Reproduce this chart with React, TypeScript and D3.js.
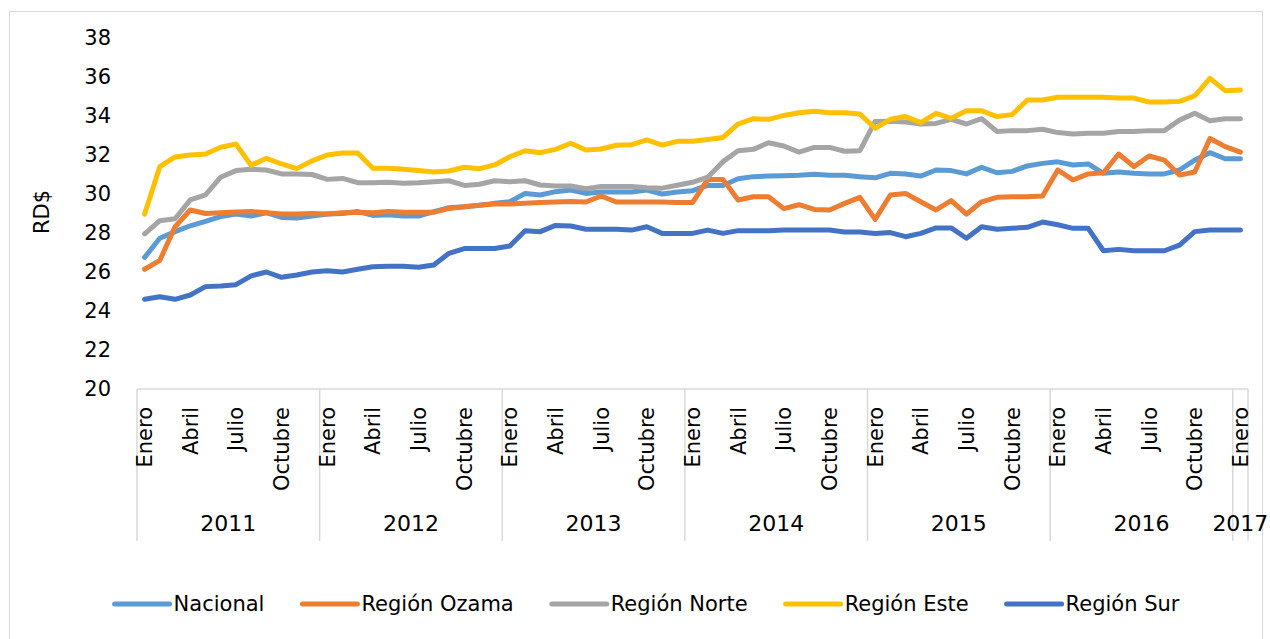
import React, { useEffect, useRef } from 'react';
import * as d3 from 'd3';

const years = ['2011', '2012', '2013', '2014', '2015', '2016', '2017'];
const monthNames = ['Enero', 'Febrero', 'Marzo', 'Abril', 'Mayo', 'Junio', 'Julio', 'Agosto', 'Septiembre', 'Octubre', 'Noviembre', 'Diciembre'];
const yTicks = [20, 22, 24, 26, 28, 30, 32, 34, 36, 38];

const nacional = [
  26.75, 27.73, 28.07, 28.37, 28.6, 28.84, 28.97, 28.87, 29.04, 28.8, 28.77, 28.87,
  28.97, 29.0, 29.1, 28.9, 28.94, 28.87, 28.87, 29.1, 29.3, 29.35, 29.42, 29.52,
  29.6, 30.03, 29.95, 30.12, 30.2, 30.03, 30.1, 30.1, 30.1, 30.2, 30.0, 30.1,
  30.17, 30.44, 30.44, 30.78, 30.89, 30.92, 30.94, 30.96, 31.01, 30.96, 30.96, 30.89,
  30.83, 31.06, 31.03, 30.92, 31.23, 31.2, 31.03, 31.37, 31.09, 31.16, 31.44, 31.57,
  31.65, 31.49, 31.54, 31.06, 31.13, 31.06, 31.03, 31.03, 31.23, 31.74, 32.12, 31.81,
  31.81,
];
const ozama = [
  26.14, 26.6, 28.32, 29.18, 29.0, 29.04, 29.08, 29.1, 29.04, 28.97, 28.97, 29.0,
  28.97, 29.04, 29.06, 29.04, 29.1, 29.06, 29.06, 29.06, 29.26, 29.35, 29.42, 29.49,
  29.49, 29.52, 29.56, 29.59, 29.62, 29.59, 29.9, 29.59, 29.59, 29.59, 29.59, 29.56,
  29.56, 30.75, 30.75, 29.69, 29.86, 29.86, 29.25, 29.45, 29.21, 29.18, 29.52, 29.83,
  28.7, 29.95, 30.03, 29.6, 29.18, 29.66, 28.97, 29.6, 29.83, 29.86, 29.86, 29.9,
  31.23, 30.72, 31.03, 31.09, 32.05, 31.4, 31.95, 31.74, 30.97, 31.13, 32.85, 32.43,
  32.15,
];
const norte = [
  27.95, 28.63, 28.73, 29.7, 29.95, 30.86, 31.2, 31.27, 31.23, 31.03, 31.03, 31.0,
  30.75, 30.8, 30.58, 30.58, 30.6, 30.55, 30.58, 30.63, 30.68, 30.44, 30.5, 30.68,
  30.63, 30.68, 30.46, 30.41, 30.41, 30.27, 30.38, 30.38, 30.38, 30.32, 30.3, 30.45,
  30.6, 30.86, 31.66, 32.22, 32.29, 32.63, 32.46, 32.15, 32.39, 32.39, 32.19, 32.22,
  33.72, 33.73, 33.69, 33.59, 33.62, 33.83, 33.59, 33.86, 33.21, 33.25, 33.25, 33.32,
  33.15, 33.08, 33.11, 33.11, 33.2, 33.2, 33.25, 33.25, 33.79, 34.14, 33.76, 33.86,
  33.86,
];
const este = [
  28.97, 31.4, 31.9, 32.0, 32.05, 32.4, 32.56, 31.47, 31.83, 31.54, 31.3, 31.7,
  32.0, 32.1, 32.1, 31.32, 31.32, 31.27, 31.2, 31.13, 31.18, 31.37, 31.3, 31.49,
  31.91, 32.22, 32.12, 32.29, 32.6, 32.26, 32.31, 32.5, 32.53, 32.77, 32.51, 32.7,
  32.7, 32.8, 32.9, 33.59, 33.86, 33.83, 34.03, 34.17, 34.24, 34.17, 34.17, 34.1,
  33.37, 33.83, 33.97, 33.66, 34.14, 33.88, 34.27, 34.27, 33.97, 34.07, 34.82, 34.82,
  34.96, 34.96, 34.96, 34.96, 34.92, 34.92, 34.72, 34.72, 34.75, 35.03, 35.93, 35.3,
  35.33,
];
const sur = [
  24.6, 24.73, 24.6, 24.82, 25.25, 25.28, 25.35, 25.8, 26.0, 25.73, 25.85, 26.0,
  26.07, 26.0, 26.14, 26.27, 26.3, 26.3, 26.24, 26.36, 26.96, 27.2, 27.2, 27.21,
  27.33, 28.12, 28.07, 28.39, 28.36, 28.19, 28.19, 28.19, 28.15, 28.32, 27.98, 27.98,
  27.98, 28.15, 27.98, 28.12, 28.12, 28.12, 28.15, 28.15, 28.15, 28.15, 28.05, 28.05,
  27.98, 28.02, 27.81, 27.98, 28.26, 28.26, 27.73, 28.32, 28.19, 28.24, 28.29, 28.56,
  28.42, 28.24, 28.24, 27.09, 27.16, 27.09, 27.09, 27.09, 27.38, 28.07, 28.15, 28.15,
  28.15,
];

const seriesNames = ['Nacional', 'Región Ozama', 'Región Norte', 'Región Este', 'Región Sur'];
const seriesValues = [nacional, ozama, norte, este, sur];
const seriesColors = ['#5B9BD5', '#ED7D31', '#A5A5A5', '#FFC000', '#4472C4'];

const FONT = '"DejaVu Sans", sans-serif';

const App = () => {
  const svgRef = useRef<SVGSVGElement>(null);

  useEffect(() => {
    const svg = d3.select(svgRef.current);
    svg.selectAll('*').remove();

    const W = 1270;
    const H = 639;
    const left = 137;
    const right = 1248;
    const top = 38;
    const bottom = 389;

    // categories: every month 2011-2016 plus Enero 2017
    const cats: { month: number; year: number }[] = [];
    years.forEach((yr, yi) => {
      const n = yi === years.length - 1 ? 1 : 12;
      for (let m = 0; m < n; m++) cats.push({ month: m, year: yi });
    });

    const x = d3.scaleBand<number>()
      .domain(d3.range(cats.length))
      .range([left, right]);
    const cx = (i: number) => (x(i) as number) + x.bandwidth() / 2;

    const y = d3.scaleLinear().domain([20, 38]).range([bottom, top]);

    svg.attr('width', W).attr('height', H);

    // outer chart border
    svg.append('rect')
      .attr('x', 9.5).attr('y', 11.5)
      .attr('width', 1253).attr('height', 660)
      .attr('fill', '#fff')
      .attr('stroke', '#d9d9d9');

    // y axis labels
    svg.append('g')
      .selectAll('text')
      .data(yTicks)
      .join('text')
      .attr('x', 111)
      .attr('y', d => y(d))
      .attr('dy', '0.35em')
      .attr('text-anchor', 'end')
      .style('font-family', FONT)
      .style('font-size', '21px')
      .attr('fill', '#000')
      .text(d => d);

    svg.append('text')
      .attr('transform', `translate(42,212) rotate(-90)`)
      .attr('text-anchor', 'middle')
      .attr('dy', '0.35em')
      .style('font-family', FONT)
      .style('font-size', '21px')
      .text('RD$');

    // x axis line and year separators
    const axisG = svg.append('g').attr('stroke', '#d9d9d9').attr('stroke-width', 1.5);
    axisG.append('line')
      .attr('x1', left).attr('x2', right)
      .attr('y1', bottom).attr('y2', bottom);
    const seps = years.map((_, yi) => x(yi * 12) as number).concat([right]);
    axisG.selectAll('line.sep')
      .data(seps)
      .join('line')
      .attr('class', 'sep')
      .attr('x1', d => d).attr('x2', d => d)
      .attr('y1', bottom).attr('y2', 541);

    // month labels (every 3rd month)
    svg.append('g')
      .selectAll('text')
      .data(cats.map((c, i) => ({ ...c, i })).filter(c => c.month % 3 === 0))
      .join('text')
      .attr('transform', d => `translate(${cx(d.i)},407) rotate(-90)`)
      .attr('text-anchor', 'end')
      .attr('dy', '0.36em')
      .style('font-family', FONT)
      .style('font-size', '21px')
      .text(d => monthNames[d.month]);

    // year labels
    svg.append('g')
      .selectAll('text')
      .data(years)
      .join('text')
      .attr('x', (d, yi) => {
        const idx = cats.map((c, i) => ({ ...c, i })).filter(c => c.year === yi);
        const a = x(idx[0].i) as number;
        const b = (x(idx[idx.length - 1].i) as number) + x.bandwidth();
        return (a + b) / 2;
      })
      .attr('y', 531)
      .attr('text-anchor', 'middle')
      .style('font-family', FONT)
      .style('font-size', '22px')
      .text(d => d);

    // lines
    const lineGen = d3.line<number>()
      .x((_, i) => cx(i))
      .y(d => y(d));

    seriesValues.forEach((vals, si) => {
      svg.append('path')
        .datum(vals)
        .attr('fill', 'none')
        .attr('stroke', seriesColors[si])
        .attr('stroke-width', 5)
        .attr('stroke-linejoin', 'round')
        .attr('stroke-linecap', 'round')
        .attr('d', lineGen);
    });

    // legend
    const legend = svg.append('g');
    const lineW = 55;
    const gapText = 4;
    const gapItem = 38;
    const items = seriesNames.map((name, si) => {
      const g = legend.append('g');
      g.append('line')
        .attr('x1', 0).attr('x2', lineW)
        .attr('y1', 0).attr('y2', 0)
        .attr('stroke', seriesColors[si])
        .attr('stroke-width', 5)
        .attr('stroke-linecap', 'round');
      const t = g.append('text')
        .attr('x', lineW + gapText)
        .attr('dy', '0.35em')
        .style('font-family', FONT)
        .style('font-size', '21px')
        .text(name);
      const tw = (t.node() as SVGTextElement).getComputedTextLength();
      return { g, w: lineW + gapText + tw };
    });
    const total = d3.sum(items, d => d.w) + gapItem * (items.length - 1);
    let pos = 647 - total / 2;
    items.forEach(it => {
      it.g.attr('transform', `translate(${pos},604)`);
      pos += it.w + gapItem;
    });
  }, []);

  return (
    <svg
      ref={svgRef}
      style={{ position: 'absolute', left: 0, top: 0, display: 'block' }}
    />
  );
};

export default App;
